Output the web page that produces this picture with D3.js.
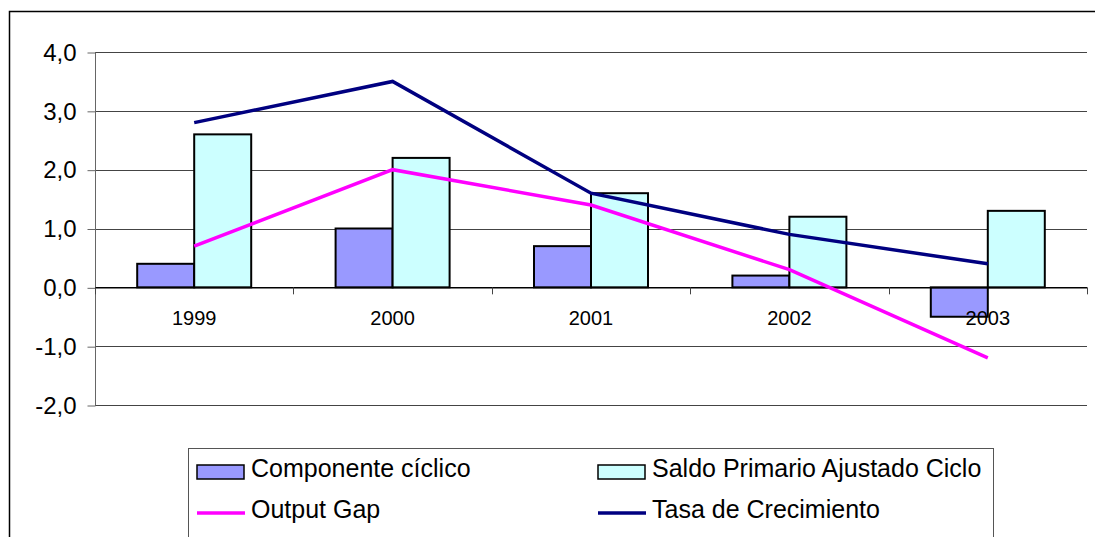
<!DOCTYPE html>
<html>
<head>
<meta charset="utf-8">
<script src="https://cdn.jsdelivr.net/npm/d3@7"></script>
<style>
  body { margin: 0; background: #fff; }
  svg { font-family: "Liberation Sans", Arial, sans-serif; }
</style>
</head>
<body>
<svg id="chart" width="1095" height="537"></svg>
<script>
// data
var years = ["1999", "2000", "2001", "2002", "2003"];
var componente = [0.4, 1.0, 0.7, 0.2, -0.5];
var saldo = [2.6, 2.2, 1.6, 1.2, 1.3];
var outputGap = [0.7, 2.0, 1.4, 0.3, -1.2];
var tasa = [2.8, 3.5, 1.6, 0.9, 0.4];
var yTicks = [4, 3, 2, 1, 0, -1, -2];

var svg = d3.select("#chart");

// outer frame (cropped on the right and bottom)
svg.append("rect")
    .attr("x", 9.5).attr("y", 11.5)
    .attr("width", 1200).attr("height", 600)
    .attr("fill", "none").attr("stroke", "#000").attr("stroke-width", 1.5);

var plotLeft = 95, plotRight = 1087, plotTop = 52, plotBottom = 405;

var x = d3.scaleBand().domain(years).range([plotLeft, plotRight]);
var y = d3.scaleLinear().domain([-2, 4]).range([plotBottom, plotTop]);
var barW = 57;

// gridlines
svg.append("g")
    .selectAll("line")
    .data(yTicks)
    .join("line")
    .attr("x1", plotLeft).attr("x2", plotRight)
    .attr("y1", d => Math.round(y(d)) + 0.5)
    .attr("y2", d => Math.round(y(d)) + 0.5)
    .attr("stroke", "#444").attr("stroke-width", 1);

// y axis
var yAxis = svg.append("g")
    .attr("transform", "translate(" + (plotLeft + 0.5) + ",0.5)")
    .call(d3.axisLeft(y).tickValues(yTicks).tickSize(8).tickPadding(11)
        .tickFormat(d => d3.format(".1f")(d).replace(".", ",").replace("−", "-")));
yAxis.select(".domain").attr("stroke", "#666").attr("d", "M0," + plotTop + "V" + plotBottom);
yAxis.selectAll(".tick line").attr("stroke", "#666");
yAxis.selectAll("text").attr("font-size", 24).attr("fill", "#000")
    .attr("font-family", "'Liberation Sans', Arial, sans-serif");

// bars
var bars = svg.append("g");
bars.selectAll("rect.comp")
    .data(years)
    .join("rect")
    .attr("class", "comp")
    .attr("x", (d, i) => x(d) + x.bandwidth() / 2 - barW)
    .attr("y", (d, i) => y(Math.max(0, componente[i])))
    .attr("width", barW)
    .attr("height", (d, i) => Math.abs(y(componente[i]) - y(0)))
    .attr("fill", "#9999ff").attr("stroke", "#000").attr("stroke-width", 2);

bars.selectAll("rect.saldo")
    .data(years)
    .join("rect")
    .attr("class", "saldo")
    .attr("x", (d, i) => x(d) + x.bandwidth() / 2)
    .attr("y", (d, i) => y(Math.max(0, saldo[i])))
    .attr("width", barW)
    .attr("height", (d, i) => Math.abs(y(saldo[i]) - y(0)))
    .attr("fill", "#ccffff").attr("stroke", "#000").attr("stroke-width", 2);

// x axis at zero
var xAxis = svg.append("g");
xAxis.append("line")
    .attr("x1", plotLeft).attr("x2", plotRight)
    .attr("y1", y(0) + 0.5).attr("y2", y(0) + 0.5)
    .attr("stroke", "#000").attr("stroke-width", 1.5);
xAxis.selectAll("line.tk")
    .data(d3.range(years.length + 1))
    .join("line")
    .attr("class", "tk")
    .attr("x1", i => Math.round(plotLeft + i * x.step()) + 0.5)
    .attr("x2", i => Math.round(plotLeft + i * x.step()) + 0.5)
    .attr("y1", y(0)).attr("y2", y(0) + 7)
    .attr("stroke", "#444");
xAxis.selectAll("text")
    .data(years)
    .join("text")
    .attr("x", d => x(d) + x.bandwidth() / 2)
    .attr("y", y(0) + 38)
    .attr("text-anchor", "middle")
    .attr("font-size", 20)
    .text(d => d);

// lines
var line = d3.line()
    .x((d, i) => x(years[i]) + x.bandwidth() / 2)
    .y(d => y(d));

svg.append("path")
    .datum(outputGap)
    .attr("d", line)
    .attr("fill", "none").attr("stroke", "#ff00ff").attr("stroke-width", 3.5);

svg.append("path")
    .datum(tasa)
    .attr("d", line)
    .attr("fill", "none").attr("stroke", "#000080").attr("stroke-width", 3.5);

// legend
var legend = svg.append("g");
legend.append("rect")
    .attr("x", 188.5).attr("y", 448.5)
    .attr("width", 805).attr("height", 100)
    .attr("fill", "#fff").attr("stroke", "#555").attr("stroke-width", 1);

var legendItems = [
    { name: "Componente cíclico", type: "bar", color: "#9999ff", col: 0, row: 0 },
    { name: "Saldo Primario Ajustado Ciclo", type: "bar", color: "#ccffff", col: 1, row: 0 },
    { name: "Output Gap", type: "line", color: "#ff00ff", col: 0, row: 1 },
    { name: "Tasa de Crecimiento", type: "line", color: "#000080", col: 1, row: 1 }
];

var item = legend.selectAll("g.item")
    .data(legendItems)
    .join("g")
    .attr("class", "item")
    .attr("transform", d => "translate(" + (197 + d.col * 401) + "," + (472 + d.row * 41) + ")");

item.filter(d => d.type == "bar")
    .append("rect")
    .attr("x", 0).attr("y", -7)
    .attr("width", 47).attr("height", 14)
    .attr("fill", d => d.color).attr("stroke", "#000").attr("stroke-width", 1.5);

item.filter(d => d.type == "line")
    .append("line")
    .attr("x1", 0).attr("x2", 48)
    .attr("y1", 0).attr("y2", 0)
    .attr("stroke", d => d.color).attr("stroke-width", 3.5);

item.append("text")
    .attr("x", 54).attr("y", 5)
    .attr("font-size", 25)
    .text(d => d.name);
</script>
</body>
</html>
